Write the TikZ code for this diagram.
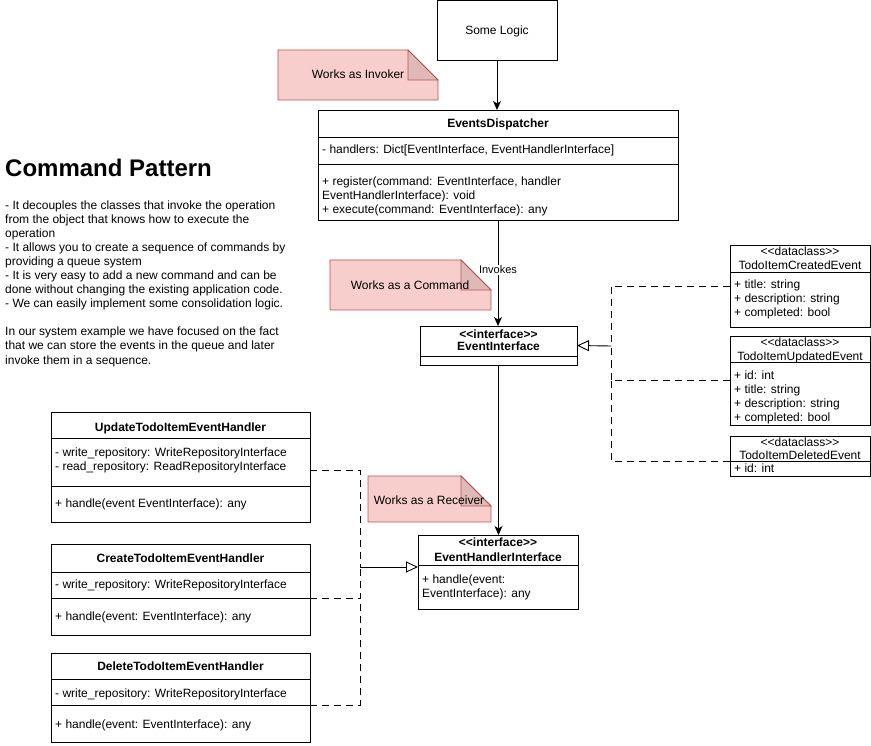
\documentclass[tikz,border=0pt]{standalone}
\usepackage{fontspec}
\setmainfont{Liberation Sans}
\usetikzlibrary{arrows.meta,calc}
\definecolor{notefill}{HTML}{F8CECC}
\definecolor{noteline}{HTML}{B85450}
\newcommand\lgl{<\kern0pt<}
\newcommand\rgr{>\kern0pt>}
\begin{document}
\begin{tikzpicture}[x=1pt,y=-1pt,
  box/.style={draw=black, line width=0.9pt, fill=white, inner sep=0pt, outer sep=0pt, anchor=north west},
  txt/.style={inner sep=0pt, anchor=base west, font=\fontsize{12}{14}\selectfont},
  ctxt/.style={inner sep=0pt, anchor=base, font=\fontsize{12}{14}\selectfont},
  btxt/.style={inner sep=0pt, anchor=base, font=\fontsize{12}{14}\selectfont\bfseries},
  conn/.style={line width=0.9pt, draw=black},
  arr/.style={conn, -{Stealth[length=9pt,width=8pt,inset=2.5pt]}},
  realize/.style={conn, -{Triangle[open,length=12pt,width=11pt,fill=white]}},
  dline/.style={conn, dash pattern=on 7pt off 5pt},
  note/.style={fill=notefill, draw=noteline, line width=0.9pt},
  fold/.style={fill=notefill!90!black, draw=noteline, line width=0.9pt}
]
\useasboundingbox (0,0) rectangle (871,746);

% ---------- title and description ----------
\node[inner sep=0pt, anchor=base west, font=\fontsize{24}{28}\selectfont\bfseries] (title) at (5,177) {Command Pattern};
\node[txt] (d1) at (5,210) {- It decouples the classes that invoke the operation};
\node[txt] (d2) at (5,224) {from the object that knows how to execute the};
\node[txt] (d3) at (5,238) {operation};
\node[txt] (d4) at (5,252) {- It allows you to create a sequence of commands by};
\node[txt] (d5) at (5,266) {providing a queue system};
\node[txt] (d6) at (5,280) {- It is very easy to add a new command and can be};
\node[txt] (d7) at (5,294) {done without changing the existing application code.};
\node[txt] (d8) at (5,308) {- We can easily implement some consolidation logic.};
\node[txt] (d9) at (5,336) {In our system example we have focused on the fact};
\node[txt] (d10) at (5,350) {that we can store the events in the queue and later};
\node[txt] (d11) at (5,364) {invoke them in a sequence.};

% ---------- notes ----------
\path[note] (278,50) -- (408,50) -- (438,80) -- (438,100) -- (278,100) -- cycle;
\path[fold] (408,50) -- (408,80) -- (438,80) -- cycle;
\node[ctxt] (ninv) at (358,79) {Works as Invoker};

\path[note] (330,260) -- (461,260) -- (491,290) -- (491,310) -- (330,310) -- cycle;
\path[fold] (461,260) -- (461,290) -- (491,290) -- cycle;
\node[ctxt] (ncmd) at (410,290) {Works as a Command};

\path[note] (368,476) -- (461,476) -- (491,506) -- (491,522) -- (368,522) -- cycle;
\path[fold] (461,476) -- (461,506) -- (491,506) -- cycle;
\node[ctxt] (nrec) at (429,504) {Works as a Receiver};

% ---------- Some Logic ----------
\node[box, minimum width=120pt, minimum height=60pt] (sl) at (437,0.5) {};
\node[ctxt] (slt) at (497,35) {Some Logic};

% ---------- EventsDispatcher ----------
\node[box, minimum width=360pt, minimum height=110pt] (ed) at (318,110) {};
\draw[conn] (318,137) -- (678,137);
\draw[conn] (318,164) -- (678,164);
\node[btxt] (edt) at (498,128) {EventsDispatcher};
\node[txt] (eda) at (322,154) {- handlers: Dict[EventInterface, EventHandlerInterface]};
\node[txt] (edm1) at (322,186) {+ register(command: EventInterface, handler};
\node[txt] (edm2) at (322,200) {EventHandlerInterface): void};
\node[txt] (edm3) at (322,214) {+ execute(command: EventInterface): any};

% ---------- EventInterface ----------
\node[box, minimum width=157pt, minimum height=39pt] (ei) at (420,326) {};
\draw[conn] (420,356) -- (577,356);
\node[btxt] (eis) at (498.5,338) {\lgl interface\rgr};
\node[btxt] (ein) at (498.5,351) {EventInterface};

% ---------- EventHandlerInterface ----------
\node[box, minimum width=160pt, minimum height=74pt] (ehi) at (418,535) {};
\draw[conn] (418,565) -- (578,565);
\node[btxt] (ehis) at (498,546) {\lgl interface\rgr};
\node[btxt] (ehin) at (498,561) {EventHandlerInterface};
\node[txt] (ehim1) at (422,583) {+ handle(event:};
\node[txt] (ehim2) at (422,597) {EventInterface): any};

% ---------- dataclasses ----------
\node[box, minimum width=140pt, minimum height=82pt] (tce) at (730,245) {};
\draw[conn] (730,272) -- (870,272);
\node[ctxt] (tces) at (800,256) {\lgl dataclass\rgr};
\node[ctxt] (tcen) at (800,270) {TodoItemCreatedEvent};
\node[txt] (tcea1) at (734,289) {+ title: string};
\node[txt] (tcea2) at (734,303) {+ description: string};
\node[txt] (tcea3) at (734,317) {+ completed: bool};

\node[box, minimum width=140pt, minimum height=89pt] (tue) at (730,336) {};
\draw[conn] (730,362) -- (870,362);
\node[ctxt] (tues) at (800,346) {\lgl dataclass\rgr};
\node[ctxt] (tuen) at (800,360) {TodoItemUpdatedEvent};
\node[txt] (tuea1) at (734,380) {+ id: int};
\node[txt] (tuea2) at (734,393.5) {+ title: string};
\node[txt] (tuea3) at (734,407) {+ description: string};
\node[txt] (tuea4) at (734,421) {+ completed: bool};

\node[box, minimum width=140pt, minimum height=40pt] (tde) at (730,436) {};
\draw[conn] (730,461) -- (870,461);
\node[ctxt] (tdes) at (800,446) {\lgl dataclass\rgr};
\node[ctxt] (tden) at (800,459) {TodoItemDeletedEvent};
\node[txt] (tdea1) at (734,472) {+ id: int};

% ---------- handlers ----------
\node[box, minimum width=259pt, minimum height=110pt] (uh) at (51,412) {};
\draw[conn] (51,438) -- (310,438);
\draw[conn] (51,486) -- (310,486);
\node[btxt] (uht) at (180.5,431) {UpdateTodoItemEventHandler};
\node[txt] (uha1) at (55,456) {- write\_repository: WriteRepositoryInterface};
\node[txt] (uha2) at (55,470) {- read\_repository: ReadRepositoryInterface};
\node[txt] (uhm) at (55,507) {+ handle(event EventInterface): any};

\node[box, minimum width=259pt, minimum height=91pt] (ch) at (51,544) {};
\draw[conn] (51,572) -- (310,572);
\draw[conn] (51,598) -- (310,598);
\node[btxt] (cht) at (180.5,562) {CreateTodoItemEventHandler};
\node[txt] (cha1) at (55,588) {- write\_repository: WriteRepositoryInterface};
\node[txt] (chm) at (55,620) {+ handle(event: EventInterface): any};

\node[box, minimum width=259pt, minimum height=89pt] (dh) at (51,653) {};
\draw[conn] (51,679) -- (310,679);
\draw[conn] (51,705) -- (310,705);
\node[btxt] (dht) at (180.5,670) {DeleteTodoItemEventHandler};
\node[txt] (dha1) at (55,697) {- write\_repository: WriteRepositoryInterface};
\node[txt] (dhm) at (55,728) {+ handle(event: EventInterface): any};

% ---------- connector coordinates ----------
\coordinate (jR) at (611,346);
\coordinate (jR2) at (611,381);
\coordinate (tde-l) at (730,461);
\coordinate (jL) at (360,567);
\coordinate (jL2) at (360,598);
\coordinate (uh-r) at (310,470);
\coordinate (ch-r) at (310,598);
\coordinate (dh-r) at (310,705);

% ---------- connectors ----------
\draw[arr] (sl.south) -- (sl.south |- ed.north);
\draw[arr] (ed.south) -- (ed.south |- ei.north)
  node[pos=0.47, fill=white, inner sep=1pt, font=\fontsize{11}{13}\selectfont] (inv) {Invokes};
\draw[arr] (ei.south) -- (ei.south |- ehi.north);

\draw[dline] (tce.west) -| (jR);
\draw[dline] (tue.west) -| (jR);
\draw[dline] (tde-l) -| (jR2);
\draw[realize] (jR) -- (ei.east);

\draw[dline] (uh-r) -| (jL);
\draw[dline] (ch-r) -| (jL);
\draw[dline] (dh-r) -| (jL2);
\draw[realize] (jL) -- (jL -| ehi.west);
\end{tikzpicture}
\end{document}
